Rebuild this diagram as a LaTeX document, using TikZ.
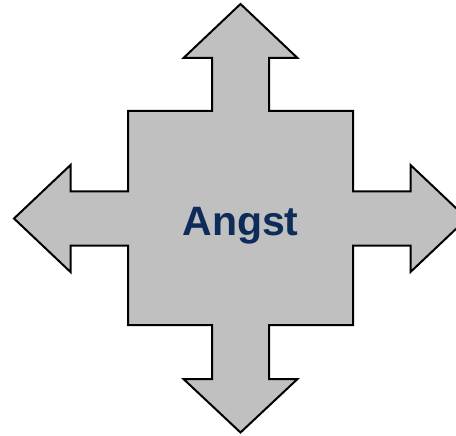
\documentclass[tikz,border=0pt]{standalone}
\usepackage{fontspec}
\setmainfont{Liberation Sans}
\definecolor{crossfill}{RGB}{192,192,192}
\definecolor{labelblue}{RGB}{14,44,90}
\begin{document}
\begin{tikzpicture}[x=1pt,y=-1pt,
  crossshape/.style={draw=black,line width=2pt,fill=crossfill,line join=miter},
  crosslabel/.style={font=\bfseries\fontsize{41}{48}\selectfont,text=labelblue,inner sep=0pt,anchor=base}]
\useasboundingbox (0,0) rectangle (456,436);
\clip (0,0) rectangle (456,436);
% four-way arrow around a square body
\draw[crossshape]
  (128,111) -- (212,111) -- (212,58) -- (183.5,58) -- (240.5,4)
  -- (297.5,58) -- (269,58) -- (269,111) -- (353,111)
  -- (353,191.5) -- (410.5,191.5) -- (410.5,165) -- (467,218.5)
  -- (410.5,272) -- (410.5,245.5) -- (353,245.5) -- (353,325)
  -- (269,325) -- (269,379) -- (297.5,379) -- (240.5,432.5)
  -- (183.5,379) -- (212,379) -- (212,325) -- (128,325)
  -- (128,245.5) -- (70.5,245.5) -- (70.5,272) -- (14,218.5)
  -- (70.5,165) -- (70.5,191.5) -- (128,191.5) -- cycle;
\node[crosslabel] (label) at (240.5,235) {Angst};
\end{tikzpicture}
\end{document}
